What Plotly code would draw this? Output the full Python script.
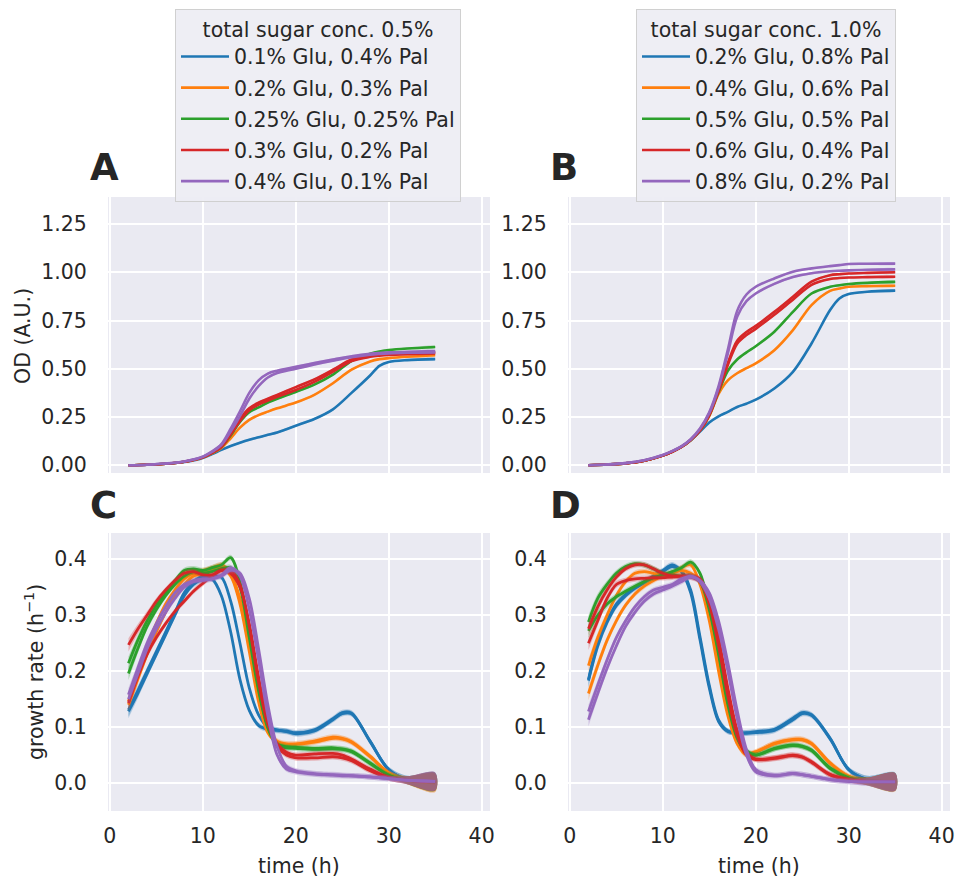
import plotly.graph_objects as go

# ---------------- data ----------------
COLORS = ["#1f77b4", "#ff7f0e", "#2ca02c", "#d62728", "#9467bd"]
labels_A = ["0.1% Glu, 0.4% Pal", "0.2% Glu, 0.3% Pal", "0.25% Glu, 0.25% Pal",
            "0.3% Glu, 0.2% Pal", "0.4% Glu, 0.1% Pal"]
labels_B = ["0.2% Glu, 0.8% Pal", "0.4% Glu, 0.6% Pal", "0.5% Glu, 0.5% Pal",
            "0.6% Glu, 0.4% Pal", "0.8% Glu, 0.2% Pal"]
legend_title_A = "total sugar conc. 0.5%"
legend_title_B = "total sugar conc. 1.0%"

x_ticks = [0, 10, 20, 30, 40]
od_ticks = [0.0, 0.25, 0.5, 0.75, 1.0, 1.25]
gr_ticks = [0.0, 0.1, 0.2, 0.3, 0.4]

# time points (h)
t_od = [2, 4, 6, 8, 10, 11, 12, 13, 14, 15, 16, 17, 18, 19, 20, 22, 24, 26, 28, 29, 30, 32, 35]
t_gr = [2, 3, 4, 5, 6, 7, 8, 9, 10, 11, 12, 13, 14, 15, 16, 17, 18, 19, 20, 22, 24, 25, 26, 28, 30, 32, 35]

# band half-widths (confidence)
hw_od = [0.002, 0.002, 0.002, 0.002, 0.003, 0.003, 0.004, 0.005, 0.006, 0.006, 0.006, 0.006,
         0.006, 0.006, 0.006, 0.006, 0.006, 0.006, 0.005, 0.005, 0.005, 0.005, 0.005]
hw_gr = [0.012, 0.009, 0.007, 0.006, 0.005, 0.005, 0.005, 0.005, 0.005, 0.005, 0.005, 0.005, 0.005,
         0.005, 0.005, 0.005, 0.005, 0.005, 0.005, 0.005, 0.005, 0.005, 0.005, 0.005, 0.005, 0.007, 0.016]

# Panel A : OD, total sugar 0.5%
odA_blue = [0.0, 0.003, 0.008, 0.017, 0.038, 0.058, 0.08, 0.1, 0.117, 0.132, 0.145, 0.158, 0.17, 0.187, 0.205, 0.24, 0.29, 0.375, 0.465, 0.515, 0.535, 0.545, 0.55]
odA_orange = [0.0, 0.003, 0.008, 0.018, 0.04, 0.062, 0.09, 0.14, 0.195, 0.235, 0.26, 0.278, 0.295, 0.31, 0.325, 0.365, 0.425, 0.495, 0.538, 0.55, 0.555, 0.562, 0.57]
odA_green = [0.0, 0.003, 0.008, 0.018, 0.041, 0.064, 0.095, 0.155, 0.225, 0.275, 0.3, 0.325, 0.345, 0.363, 0.38, 0.418, 0.47, 0.54, 0.578, 0.59, 0.597, 0.605, 0.613]
odA_red1 = [0.0, 0.003, 0.008, 0.018, 0.041, 0.065, 0.097, 0.165, 0.24, 0.295, 0.325, 0.345, 0.365, 0.385, 0.405, 0.445, 0.495, 0.548, 0.568, 0.574, 0.578, 0.582, 0.585]
odA_red2 = [0.0, 0.003, 0.008, 0.018, 0.041, 0.065, 0.096, 0.16, 0.23, 0.285, 0.315, 0.335, 0.355, 0.372, 0.39, 0.432, 0.485, 0.54, 0.562, 0.568, 0.572, 0.576, 0.58]
odA_purple1 = [0.0, 0.003, 0.009, 0.02, 0.045, 0.072, 0.11, 0.19, 0.28, 0.375, 0.44, 0.475, 0.49, 0.5, 0.51, 0.53, 0.548, 0.565, 0.578, 0.582, 0.585, 0.588, 0.592]
odA_purple2 = [0.0, 0.003, 0.009, 0.02, 0.044, 0.07, 0.105, 0.175, 0.255, 0.345, 0.41, 0.455, 0.478, 0.49, 0.5, 0.522, 0.542, 0.56, 0.573, 0.577, 0.58, 0.583, 0.585]

# Panel B : OD, total sugar 1.0%
odB_blue = [0.0, 0.004, 0.01, 0.024, 0.05, 0.07, 0.095, 0.13, 0.175, 0.222, 0.254, 0.277, 0.302, 0.319, 0.34, 0.398, 0.484, 0.631, 0.804, 0.864, 0.887, 0.899, 0.905]
odB_orange = [0.0, 0.004, 0.01, 0.024, 0.05, 0.07, 0.095, 0.13, 0.18, 0.255, 0.37, 0.44, 0.477, 0.503, 0.528, 0.596, 0.7, 0.83, 0.904, 0.916, 0.925, 0.928, 0.93]
odB_green = [0.0, 0.004, 0.01, 0.024, 0.05, 0.07, 0.095, 0.13, 0.18, 0.258, 0.38, 0.49, 0.548, 0.585, 0.617, 0.692, 0.795, 0.89, 0.925, 0.933, 0.939, 0.945, 0.95]
odB_red1 = [0.0, 0.004, 0.01, 0.024, 0.05, 0.07, 0.095, 0.131, 0.182, 0.262, 0.39, 0.53, 0.645, 0.69, 0.722, 0.795, 0.873, 0.951, 0.985, 0.99, 0.994, 0.997, 1.0]
odB_red2 = [0.0, 0.004, 0.01, 0.024, 0.05, 0.07, 0.095, 0.131, 0.181, 0.26, 0.385, 0.52, 0.63, 0.675, 0.707, 0.78, 0.858, 0.935, 0.965, 0.97, 0.973, 0.975, 0.977]
odB_purple1 = [0.0, 0.004, 0.011, 0.026, 0.053, 0.073, 0.098, 0.135, 0.19, 0.275, 0.41, 0.6, 0.8, 0.885, 0.925, 0.968, 1.003, 1.02, 1.032, 1.037, 1.043, 1.044, 1.045]
odB_purple2 = [0.0, 0.004, 0.011, 0.026, 0.053, 0.073, 0.098, 0.134, 0.188, 0.27, 0.4, 0.58, 0.77, 0.85, 0.89, 0.94, 0.975, 0.995, 1.005, 1.008, 1.01, 1.013, 1.015]

# Panel C : growth rate, total sugar 0.5%
grC_blue1 = [0.131, 0.165, 0.2, 0.235, 0.27, 0.305, 0.34, 0.36, 0.37, 0.365, 0.335, 0.27, 0.185, 0.13, 0.103, 0.096, 0.094, 0.093, 0.09, 0.095, 0.115, 0.126, 0.125, 0.075, 0.024, 0.006, 0.003]
grC_blue2 = [0.128, 0.16, 0.195, 0.23, 0.265, 0.3, 0.335, 0.355, 0.365, 0.37, 0.368, 0.325, 0.25, 0.17, 0.122, 0.1, 0.095, 0.092, 0.088, 0.093, 0.113, 0.124, 0.124, 0.074, 0.024, 0.006, 0.002]
grC_orange1 = [0.146, 0.2, 0.245, 0.285, 0.32, 0.345, 0.365, 0.375, 0.38, 0.385, 0.39, 0.375, 0.33, 0.25, 0.155, 0.095, 0.075, 0.07, 0.07, 0.075, 0.082, 0.08, 0.074, 0.048, 0.018, 0.005, 0.0]
grC_orange2 = [0.14, 0.185, 0.23, 0.27, 0.305, 0.335, 0.355, 0.37, 0.375, 0.38, 0.385, 0.37, 0.32, 0.235, 0.145, 0.09, 0.073, 0.069, 0.069, 0.073, 0.08, 0.079, 0.073, 0.047, 0.018, 0.005, 0.0]
grC_green1 = [0.214, 0.255, 0.29, 0.318, 0.34, 0.362, 0.38, 0.383, 0.38, 0.385, 0.39, 0.403, 0.36, 0.27, 0.17, 0.1, 0.07, 0.065, 0.064, 0.062, 0.063, 0.061, 0.057, 0.036, 0.014, 0.005, 0.002]
grC_green2 = [0.196, 0.24, 0.28, 0.31, 0.335, 0.355, 0.37, 0.378, 0.375, 0.378, 0.383, 0.385, 0.35, 0.26, 0.165, 0.098, 0.068, 0.063, 0.062, 0.06, 0.061, 0.06, 0.056, 0.035, 0.014, 0.005, 0.002]
grC_red1 = [0.247, 0.275, 0.3, 0.325, 0.345, 0.362, 0.375, 0.378, 0.372, 0.372, 0.38, 0.38, 0.355, 0.28, 0.18, 0.105, 0.07, 0.055, 0.05, 0.052, 0.053, 0.05, 0.043, 0.025, 0.01, 0.005, 0.003]
grC_red2 = [0.143, 0.19, 0.23, 0.26, 0.285, 0.307, 0.325, 0.343, 0.357, 0.37, 0.38, 0.375, 0.35, 0.285, 0.19, 0.11, 0.065, 0.05, 0.045, 0.045, 0.047, 0.045, 0.04, 0.022, 0.009, 0.005, 0.002]
grC_purple1 = [0.158, 0.205, 0.25, 0.285, 0.315, 0.34, 0.355, 0.362, 0.365, 0.365, 0.372, 0.385, 0.37, 0.31, 0.22, 0.12, 0.05, 0.025, 0.02, 0.016, 0.014, 0.013, 0.013, 0.011, 0.008, 0.005, 0.003]
grC_purple2 = [0.15, 0.195, 0.24, 0.275, 0.305, 0.33, 0.35, 0.36, 0.362, 0.365, 0.37, 0.38, 0.375, 0.33, 0.24, 0.14, 0.065, 0.03, 0.022, 0.017, 0.015, 0.014, 0.013, 0.011, 0.008, 0.005, 0.003]

# Panel D : growth rate, total sugar 1.0%
grD_blue1 = [0.185, 0.25, 0.29, 0.32, 0.337, 0.35, 0.36, 0.37, 0.38, 0.39, 0.378, 0.34, 0.256, 0.17, 0.11, 0.092, 0.09, 0.09, 0.092, 0.096, 0.116, 0.126, 0.122, 0.08, 0.024, 0.006, 0.003]
grD_blue2 = [0.183, 0.245, 0.287, 0.317, 0.335, 0.348, 0.358, 0.368, 0.378, 0.387, 0.38, 0.345, 0.262, 0.175, 0.113, 0.093, 0.089, 0.089, 0.09, 0.094, 0.113, 0.124, 0.121, 0.079, 0.024, 0.006, 0.002]
grD_orange1 = [0.21, 0.26, 0.3, 0.335, 0.36, 0.375, 0.378, 0.375, 0.372, 0.375, 0.385, 0.39, 0.355, 0.29, 0.2, 0.12, 0.07, 0.05, 0.055, 0.071, 0.078, 0.078, 0.071, 0.036, 0.012, 0.003, 0.002]
grD_orange2 = [0.16, 0.21, 0.255, 0.29, 0.318, 0.338, 0.352, 0.362, 0.37, 0.375, 0.38, 0.375, 0.36, 0.3, 0.215, 0.13, 0.075, 0.053, 0.056, 0.07, 0.077, 0.077, 0.07, 0.035, 0.012, 0.003, 0.001]
grD_green1 = [0.288, 0.33, 0.355, 0.375, 0.387, 0.392, 0.39, 0.383, 0.375, 0.372, 0.37, 0.37, 0.36, 0.31, 0.23, 0.14, 0.08, 0.055, 0.05, 0.062, 0.068, 0.066, 0.059, 0.027, 0.009, 0.003, 0.002]
grD_green2 = [0.272, 0.3, 0.32, 0.333, 0.343, 0.352, 0.36, 0.367, 0.372, 0.378, 0.385, 0.395, 0.375, 0.315, 0.235, 0.145, 0.085, 0.058, 0.05, 0.061, 0.067, 0.065, 0.058, 0.026, 0.009, 0.003, 0.002]
grD_red1 = [0.276, 0.315, 0.345, 0.368, 0.383, 0.39, 0.39, 0.383, 0.375, 0.37, 0.37, 0.368, 0.36, 0.32, 0.245, 0.155, 0.085, 0.05, 0.042, 0.045, 0.05, 0.047, 0.038, 0.015, 0.006, 0.003, 0.002]
grD_red2 = [0.25, 0.29, 0.33, 0.355, 0.362, 0.365, 0.366, 0.367, 0.367, 0.368, 0.37, 0.37, 0.365, 0.33, 0.26, 0.17, 0.095, 0.055, 0.043, 0.044, 0.049, 0.046, 0.037, 0.015, 0.006, 0.003, 0.002]
grD_purple1 = [0.128, 0.175, 0.22, 0.26, 0.29, 0.315, 0.333, 0.345, 0.35, 0.355, 0.365, 0.37, 0.36, 0.33, 0.275, 0.2, 0.115, 0.05, 0.02, 0.013, 0.017, 0.015, 0.012, 0.006, 0.003, 0.002, 0.002]
grD_purple2 = [0.113, 0.16, 0.205, 0.245, 0.28, 0.305, 0.325, 0.338, 0.345, 0.352, 0.36, 0.368, 0.362, 0.34, 0.29, 0.215, 0.13, 0.06, 0.024, 0.014, 0.017, 0.015, 0.012, 0.006, 0.003, 0.002, 0.002]

odA = [[odA_blue], [odA_orange], [odA_green], [odA_red1, odA_red2], [odA_purple1, odA_purple2]]
odB = [[odB_blue], [odB_orange], [odB_green], [odB_red1, odB_red2], [odB_purple1, odB_purple2]]
grC = [[grC_blue1, grC_blue2], [grC_orange1, grC_orange2], [grC_green1, grC_green2],
       [grC_red1, grC_red2], [grC_purple1, grC_purple2]]
grD = [[grD_blue1, grD_blue2], [grD_orange1, grD_orange2], [grD_green1, grD_green2],
       [grD_red1, grD_red2], [grD_purple1, grD_purple2]]

# ---------------- figure ----------------
W, H = 957, 879
FONT = "DejaVu Sans"
TXT = "#262626"
FS = 20.5


def rgba(hexc, a):
    h = hexc.lstrip("#")
    return "rgba(%d,%d,%d,%.2f)" % (int(h[0:2], 16), int(h[2:4], 16), int(h[4:6], 16), a)


fig = go.Figure()


def add_panel(series, t, hw, xa, ya, labels, legend, lw):
    for i, reps in enumerate(series):
        col = COLORS[i]
        for j, y in enumerate(reps):
            up = [v + h for v, h in zip(y, hw)]
            lo = [v - h for v, h in zip(y, hw)]
            fig.add_trace(go.Scatter(
                x=t + t[::-1], y=up + lo[::-1], mode="lines", fill="toself",
                fillcolor=rgba(col, 0.28), line=dict(width=0, shape="spline", smoothing=0.9),
                hoverinfo="skip", showlegend=False, xaxis=xa, yaxis=ya))
            fig.add_trace(go.Scatter(
                x=t, y=y, mode="lines", name=labels[i] if labels else "",
                line=dict(color=col, width=lw, shape="spline", smoothing=0.9),
                legendgroup=f"{legend}_{i}", legend=legend,
                showlegend=(labels is not None and j == 0),
                xaxis=xa, yaxis=ya))


add_panel(odA, t_od, hw_od, "x", "y", labels_A, "legend", 2.6)
add_panel(odB, t_od, hw_od, "x2", "y2", labels_B, "legend2", 2.6)
add_panel(grC, t_gr, hw_gr, "x3", "y3", None, "legend", 2.8)
add_panel(grD, t_gr, hw_gr, "x4", "y4", None, "legend2", 2.8)

# panel positions (pixels)
LEFT = (108, 490)
RIGHT = (568, 950)
TOP = (197, 473)
BOT = (533, 811)


def xd(p):
    return [p[0] / W, p[1] / W]


def yd(p):
    return [1 - p[1] / H, 1 - p[0] / H]


axis_common = dict(showgrid=True, gridcolor="white", gridwidth=1.6, zeroline=False,
                   showline=False, ticks="outside", tickcolor="rgba(0,0,0,0)", automargin=False,
                   tickfont=dict(family=FONT, size=FS, color=TXT))

xr = [-0.2, 40.9]
legend_common = dict(yanchor="top", xanchor="left", y=1 - 9 / H,
                     bgcolor="rgba(237,237,243,0.95)", bordercolor="#d0d0d0", borderwidth=1,
                     font=dict(family=FONT, size=FS, color=TXT), tracegroupgap=1.5, itemwidth=48)
layout = dict(
    width=W, height=H, autosize=False,
    margin=dict(l=0, r=0, t=0, b=0),
    paper_bgcolor="white", plot_bgcolor="#eaeaf2",
    font=dict(family=FONT, size=FS, color=TXT),
    xaxis=dict(domain=xd(LEFT), anchor="y", range=xr, tickvals=x_ticks, showticklabels=False, ticklen=6, **axis_common),
    xaxis2=dict(domain=xd(RIGHT), anchor="y2", range=xr, tickvals=x_ticks, showticklabels=False, ticklen=6, **axis_common),
    xaxis3=dict(domain=xd(LEFT), anchor="y3", range=xr, tickvals=x_ticks, ticklen=6, **axis_common),
    xaxis4=dict(domain=xd(RIGHT), anchor="y4", range=xr, tickvals=x_ticks, ticklen=6, **axis_common),
    yaxis=dict(domain=yd(TOP), anchor="x", range=[-0.04, 1.39], tickvals=od_ticks, tickformat=".2f",
               ticklen=16, **axis_common),
    yaxis2=dict(domain=yd(TOP), anchor="x2", range=[-0.04, 1.39], tickvals=od_ticks, tickformat=".2f",
                ticklen=16, **axis_common),
    yaxis3=dict(domain=yd(BOT), anchor="x3", range=[-0.05, 0.447], tickvals=gr_ticks, tickformat=".1f",
                ticklen=16, **axis_common),
    yaxis4=dict(domain=yd(BOT), anchor="x4", range=[-0.05, 0.447], tickvals=gr_ticks, tickformat=".1f",
                ticklen=16, **axis_common),
    legend=dict(x=175 / W,
                title=dict(text=legend_title_A, side="top center", font=dict(family=FONT, size=FS, color=TXT)),
                **legend_common),
    legend2=dict(x=636 / W,
                 title=dict(text=legend_title_B, side="top center", font=dict(family=FONT, size=FS, color=TXT)),
                 **legend_common),
    showlegend=True,
)
fig.update_layout(**layout)

ann = []
for letter, cx, cy in [("A", 104, 168), ("B", 564, 168), ("C", 103, 505), ("D", 565, 505)]:
    ann.append(dict(text=f"<b>{letter}</b>", x=cx / W, y=1 - cy / H, xref="paper", yref="paper",
                    xanchor="center", yanchor="middle", showarrow=False,
                    font=dict(family=FONT, size=37, color=TXT)))
ann.append(dict(text="OD (A.U.)", x=23 / W, y=1 - 336 / H, xref="paper", yref="paper", textangle=-90,
                xanchor="center", yanchor="middle", showarrow=False, font=dict(family=FONT, size=FS, color=TXT)))
ann.append(dict(text="growth rate (h<sup>\u22121</sup>)", x=34 / W, y=1 - 672 / H, xref="paper", yref="paper",
                textangle=-90, xanchor="center", yanchor="middle", showarrow=False,
                font=dict(family=FONT, size=FS, color=TXT)))
ann.append(dict(text="time (h)", x=299 / W, y=1 - 866 / H, xref="paper", yref="paper",
                xanchor="center", yanchor="middle", showarrow=False, font=dict(family=FONT, size=FS, color=TXT)))
ann.append(dict(text="time (h)", x=759 / W, y=1 - 866 / H, xref="paper", yref="paper",
                xanchor="center", yanchor="middle", showarrow=False, font=dict(family=FONT, size=FS, color=TXT)))
fig.update_layout(annotations=ann)

fig.write_html("out.html")
